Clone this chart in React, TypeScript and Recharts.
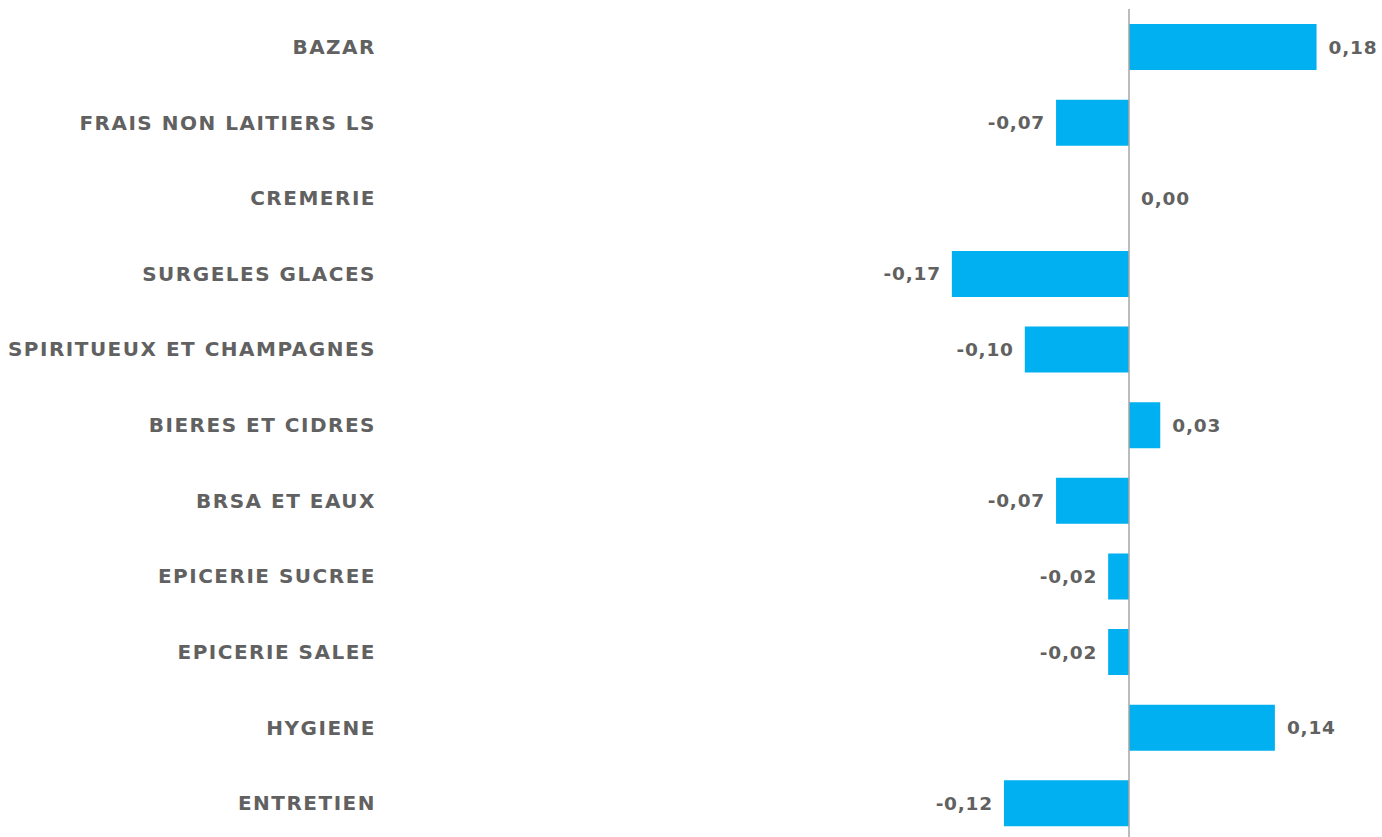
import React from "react";
import { BarChart, Bar, XAxis, YAxis, ReferenceLine, Rectangle } from "recharts";

const categories = [
  "BAZAR",
  "FRAIS NON LAITIERS LS",
  "CREMERIE",
  "SURGELES GLACES",
  "SPIRITUEUX ET CHAMPAGNES",
  "BIERES ET CIDRES",
  "BRSA ET EAUX",
  "EPICERIE SUCREE",
  "EPICERIE SALEE",
  "HYGIENE",
  "ENTRETIEN",
];
const values = [0.18, -0.07, 0.0, -0.17, -0.1, 0.03, -0.07, -0.02, -0.02, 0.14, -0.12];

const data = categories.map((name, i) => ({ name, value: values[i] }));

const TEXT = "#616161";
const FONT = "'DejaVu Sans', Verdana, sans-serif";

const fmt = (v: number) => v.toFixed(2).replace(".", ",");

const BarWithLabel = (props: any) => {
  const { x, y, width, height, fill, value } = props;
  const v = Array.isArray(value) ? value[1] - value[0] : value;
  const real = props.payload ? props.payload.value : v;
  const x0 = Math.min(x, x + width);
  const x1 = Math.max(x, x + width);
  const cy = y + height / 2;
  const neg = real < 0;
  return (
    <g>
      {Math.abs(width) > 0 && <Rectangle x={x0} y={y} width={x1 - x0} height={height} fill={fill} />}
      <text
        x={neg ? x0 - 11 : x1 + 12}
        y={cy}
        textAnchor={neg ? "end" : "start"}
        dominantBaseline="central"
        fill={TEXT}
        fontFamily={FONT}
        fontWeight="bold"
        fontSize={18.5}
        letterSpacing={0.8}
      >
        {fmt(real)}
      </text>
    </g>
  );
};

export default function App() {
  return (
    <div style={{ position: "absolute", left: 0, top: 0, width: 1382, height: 837, overflow: "hidden", background: "#fff" }}>
      <BarChart
        width={1382}
        height={845}
        data={data}
        layout="vertical"
        margin={{ top: 9, right: 0, bottom: 4, left: 0 }}
      >
        <XAxis type="number" hide domain={[-0.714, 0.2428]} allowDataOverflow />
        <YAxis
          type="category"
          dataKey="name"
          width={385}
          axisLine={false}
          tickLine={false}
          tickSize={0}
          tickMargin={9}
          interval={0}
          tick={{ fill: TEXT, fontFamily: FONT, fontWeight: "bold", fontSize: 20, letterSpacing: 1.5 }}
        />
        <Bar dataKey="value" fill="#00B0F0" barSize={46} isAnimationActive={false} shape={BarWithLabel} />
        <ReferenceLine x={0} stroke="#A6A6A6" strokeWidth={1.5} />
      </BarChart>
    </div>
  );
}
